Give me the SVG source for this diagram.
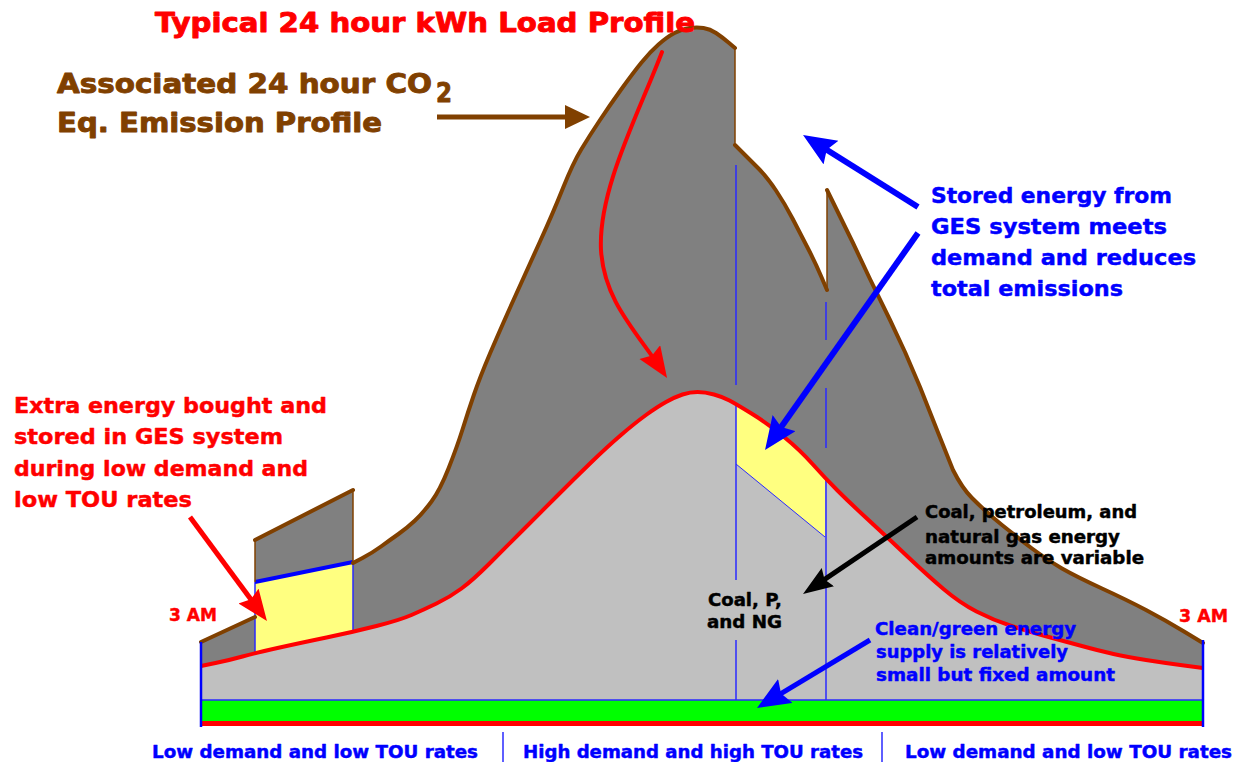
<svg xmlns="http://www.w3.org/2000/svg" width="1239" height="762" viewBox="0 0 1239 762">
<style>
text{font-family:"DejaVu Sans","Liberation Sans",sans-serif;font-weight:bold;stroke-width:0.45;stroke-linejoin:round}
.red{fill:#FF0000;stroke:#FF0000}.blue{fill:#0000FF;stroke:#0000FF}.brown{fill:#804000;stroke:#804000}.black{fill:#000;stroke:#000}
.heavy{stroke-width:0.9}
.bl{stroke:#2A2AFF;stroke-width:1.5;fill:none}
.br{stroke:#804000;stroke-width:4;fill:none;stroke-linejoin:round;stroke-linecap:round}
.brt{stroke:#804000;stroke-width:1.5;fill:none}
</style>
<defs>
<marker id="ah-blue" markerUnits="userSpaceOnUse" markerWidth="34" markerHeight="30" refX="23" refY="14" orient="auto"><path d="M0,0 L33,14 L0,28 L5,14 Z" fill="#0000FF"/></marker>
<marker id="ah-black" markerUnits="userSpaceOnUse" markerWidth="31" markerHeight="23" refX="20" refY="11" orient="auto"><path d="M0,0 L30,11 L0,22 L4,11 Z" fill="#000"/></marker>
<marker id="ah-red" markerUnits="userSpaceOnUse" markerWidth="32" markerHeight="26" refX="21" refY="12.5" orient="auto"><path d="M0,0 L31,12.5 L0,25 L4,12.5 Z" fill="#FF0000"/></marker>
<marker id="ah-brown" markerUnits="userSpaceOnUse" markerWidth="26" markerHeight="25" refX="15" refY="12" orient="auto"><path d="M0,0 L25,12 L0,24 Z" fill="#804000"/></marker>
</defs>
<rect width="1239" height="762" fill="#FFFFFF"/>

<g id="emission-profile">
<path d="M201,700 L201,642 L255,617 L255,540 L353,490 L353,563 L362.5,558 Q372,553 381,546.5 Q390,540 398.5,534 Q407,528 415,520.5 Q423,513 431.5,501.5 Q440,490 448.5,468.5 Q457,447 462.5,429.5 Q468,412 474,394.5 Q480,377 490,353.5 Q500,330 513.5,300 Q527,270 540,241.5 Q553,213 563,188 Q573,163 581.5,149 Q590,135 600,120 Q610,105 621.5,89 Q633,73 641.5,62.5 Q650,52 658.5,44.5 Q667,37 674.5,33 Q682,29 689.5,28 Q697,27 703.5,28 Q710,29 716,33 Q722,37 728.5,42.5 L735,48 L735,145 L742.5,152.5 Q750,160 758.5,168.5 Q767,177 776,190.5 Q785,204 792.5,218.5 Q800,233 807.5,247.5 Q815,262 821,276 L827,290 L827,190 L853,243 L870,279 L890,320 L905,352 L920,387 L937,430 L953,470 Q962,488 972,498 Q987,513 1002,525 Q1017,537 1032,548.5 Q1047,560 1062,568.5 Q1077,577 1102,588.5 Q1127,600 1146,610 Q1165,620 1184,631.5 L1203,643 L1203,700 Z" fill="#808080"/>
</g>

<g id="load-profile">
<path d="M201,700 L201,666 L215.5,663 Q230,660 242.5,656.5 Q255,653 277.5,648 Q300,643 326.5,637.5 Q353,632 376.5,626 Q400,620 411.5,615 Q423,610 436.5,603.5 Q450,597 461.5,588.5 Q473,580 489,564 Q505,548 522.5,530.5 Q540,513 557.5,495.5 Q575,478 591,462.5 Q607,447 621,435 Q635,423 646,415 Q657,407 666,402 Q675,397 682.5,394.5 Q690,392 697.5,392 Q705,392 714,394.5 Q723,397 729.5,400.5 Q736,404 751.5,413.5 Q767,423 783.5,436.5 Q800,450 812.5,464 Q825,478 837.5,490.5 Q850,503 868.5,520 Q887,537 907,556 Q927,575 943.5,589 Q960,603 976.5,611.5 Q993,620 1011.5,626 Q1030,632 1045,636 Q1060,640 1080,645.5 Q1100,651 1113.5,654 Q1127,657 1146,660 Q1165,663 1184,665.5 L1203,668 L1203,700 Z" fill="#C0C0C0"/>
</g>

<g id="stored-left">
<path d="M255,582 L353,562 L353,632 L300,643 L255,653 Z" fill="#FFFF80"/>
<line x1="255" y1="582" x2="255" y2="655" class="bl"/>
<line x1="353" y1="562" x2="353" y2="633" class="bl"/>
<line x1="255" y1="582" x2="353" y2="562" stroke="#0000FF" stroke-width="4"/>
</g>

<g id="stored-right">
<path d="M736,404 L751.5,413.5 L767,423 L783.5,436.5 L800,450 L812.5,464 L825,477 L825,537 L736,464 Z" fill="#FFFF80"/>
<line x1="736" y1="464" x2="825" y2="537" stroke="#2A2AFF" stroke-width="1"/>
</g>

<g id="period-lines">
<line x1="736" y1="165" x2="736" y2="385" class="bl"/>
<line x1="736" y1="404" x2="736" y2="580" class="bl"/>
<line x1="736" y1="640" x2="736" y2="700" class="bl"/>
<line x1="826" y1="302" x2="826" y2="340" class="bl"/>
<line x1="826" y1="388" x2="826" y2="448" class="bl"/>
<line x1="826" y1="478" x2="826" y2="700" class="bl"/>
</g>

<g id="emission-outline">
<path d="M201,642 L255,617" class="br"/>
<path d="M255,540 L353,490" class="br"/>
<path d="M353,563 L362.5,558 Q372,553 381,546.5 Q390,540 398.5,534 Q407,528 415,520.5 Q423,513 431.5,501.5 Q440,490 448.5,468.5 Q457,447 462.5,429.5 Q468,412 474,394.5 Q480,377 490,353.5 Q500,330 513.5,300 Q527,270 540,241.5 Q553,213 563,188 Q573,163 581.5,149 Q590,135 600,120 Q610,105 621.5,89 Q633,73 641.5,62.5 Q650,52 658.5,44.5 Q667,37 674.5,33 Q682,29 689.5,28 Q697,27 703.5,28 Q710,29 716,33 Q722,37 728.5,42.5 L735,48" class="br"/>
<path d="M735,145 L742.5,152.5 Q750,160 758.5,168.5 Q767,177 776,190.5 Q785,204 792.5,218.5 Q800,233 807.5,247.5 Q815,262 821,276 L827,290" class="br"/>
<path d="M827,190 L853,243 L870,279 L890,320 L905,352 L920,387 L937,430 L953,470 Q962,488 972,498 Q987,513 1002,525 Q1017,537 1032,548.5 Q1047,560 1062,568.5 Q1077,577 1102,588.5 Q1127,600 1146,610 Q1165,620 1184,631.5 L1203,643" class="br"/>
<line x1="255" y1="540" x2="255" y2="582" class="brt"/>
<line x1="353" y1="490" x2="353" y2="563" class="brt"/>
<line x1="735" y1="48" x2="735" y2="145" class="brt"/>
<line x1="827" y1="190" x2="827" y2="290" class="brt"/>
</g>

<g id="load-outline">
<path d="M201,666 L215.5,663 Q230,660 242.5,656.5 Q255,653 277.5,648 Q300,643 326.5,637.5 Q353,632 376.5,626 Q400,620 411.5,615 Q423,610 436.5,603.5 Q450,597 461.5,588.5 Q473,580 489,564 Q505,548 522.5,530.5 Q540,513 557.5,495.5 Q575,478 591,462.5 Q607,447 621,435 Q635,423 646,415 Q657,407 666,402 Q675,397 682.5,394.5 Q690,392 697.5,392 Q705,392 714,394.5 Q723,397 729.5,400.5 Q736,404 751.5,413.5 Q767,423 783.5,436.5 Q800,450 812.5,464 Q825,478 837.5,490.5 Q850,503 868.5,520 Q887,537 907,556 Q927,575 943.5,589 Q960,603 976.5,611.5 Q993,620 1011.5,626 Q1030,632 1045,636 Q1060,640 1080,645.5 Q1100,651 1113.5,654 Q1127,657 1146,660 Q1165,663 1184,665.5 L1203,668" fill="none" stroke="#FF0000" stroke-width="4" stroke-linejoin="round"/>
</g>

<g id="base">
<rect x="201" y="700" width="1002" height="21" fill="#00FF00"/>
<rect x="201" y="721" width="1002" height="5" fill="#FF0000"/>
<line x1="201" y1="700" x2="1203" y2="700" stroke="#2A2AFF" stroke-width="1.5"/>
<line x1="201" y1="642" x2="201" y2="727" stroke="#0000FF" stroke-width="2.5"/>
<line x1="1203" y1="640" x2="1203" y2="727" stroke="#0000FF" stroke-width="2.5"/>
<line x1="503" y1="732" x2="503" y2="762" stroke="#2A2AFF" stroke-width="1.5"/>
<line x1="882" y1="732" x2="882" y2="762" stroke="#2A2AFF" stroke-width="1.5"/>
</g>

<g id="connectors">
<line x1="437" y1="117" x2="580" y2="117" stroke="#804000" stroke-width="5" marker-end="url(#ah-brown)"/>
<path d="M662,52 C638,115 598,190 601,250 C604,300 635,330 661.5,369.6" fill="none" stroke="#FF0000" stroke-width="4" stroke-linecap="round" marker-end="url(#ah-red)"/>
<line x1="190" y1="517" x2="261" y2="613" stroke="#FF0000" stroke-width="5" marker-end="url(#ah-red)"/>
<line x1="918" y1="207" x2="811.5" y2="140.3" stroke="#0000FF" stroke-width="6" marker-end="url(#ah-blue)"/>
<line x1="918" y1="233" x2="770.8" y2="441.8" stroke="#0000FF" stroke-width="6" marker-end="url(#ah-blue)"/>
<line x1="870" y1="640" x2="765.6" y2="702.8" stroke="#0000FF" stroke-width="5" marker-end="url(#ah-blue)"/>
<line x1="917" y1="517" x2="811.3" y2="588.4" stroke="#000000" stroke-width="5" marker-end="url(#ah-black)"/>
</g>

<g id="title">
<text x="155" y="32" font-size="27" class="red heavy" textLength="540" lengthAdjust="spacingAndGlyphs">Typical 24 hour kWh Load Profile</text>
</g>
<g id="co2-label">
<text x="57" y="93" font-size="27" class="brown heavy" textLength="375" lengthAdjust="spacingAndGlyphs">Associated 24 hour CO</text>
<text x="436" y="102" font-size="27" class="brown heavy" textLength="16" lengthAdjust="spacingAndGlyphs">2</text>
<text x="57" y="132" font-size="27" class="brown heavy" textLength="325" lengthAdjust="spacingAndGlyphs">Eq. Emission Profile</text>
</g>
<g id="stored-label">
<text x="931" y="203" font-size="21" class="blue" textLength="241" lengthAdjust="spacingAndGlyphs">Stored energy from</text>
<text x="931" y="234" font-size="21" class="blue" textLength="236" lengthAdjust="spacingAndGlyphs">GES system meets</text>
<text x="931" y="265" font-size="21" class="blue" textLength="265" lengthAdjust="spacingAndGlyphs">demand and reduces</text>
<text x="931" y="296" font-size="21" class="blue" textLength="192" lengthAdjust="spacingAndGlyphs">total emissions</text>
</g>
<g id="extra-label">
<text x="14" y="413" font-size="21" class="red" textLength="313" lengthAdjust="spacingAndGlyphs">Extra energy bought and</text>
<text x="14" y="444" font-size="21" class="red" textLength="269" lengthAdjust="spacingAndGlyphs">stored in GES system</text>
<text x="14" y="476" font-size="21" class="red" textLength="294" lengthAdjust="spacingAndGlyphs">during low demand and</text>
<text x="14" y="507" font-size="21" class="red" textLength="178" lengthAdjust="spacingAndGlyphs">low TOU rates</text>
</g>
<g id="time-labels">
<text x="169" y="621" font-size="17" class="red" textLength="48" lengthAdjust="spacingAndGlyphs">3 AM</text>
<text x="1179" y="622" font-size="17" class="red" textLength="49" lengthAdjust="spacingAndGlyphs">3 AM</text>
</g>
<g id="fossil-label">
<text x="925" y="518" font-size="17" class="black" textLength="212" lengthAdjust="spacingAndGlyphs">Coal, petroleum, and</text>
<text x="925" y="543" font-size="17" class="black" textLength="195" lengthAdjust="spacingAndGlyphs">natural gas energy</text>
<text x="925" y="564" font-size="17" class="black" textLength="219" lengthAdjust="spacingAndGlyphs">amounts are variable</text>
</g>
<g id="fossil-short-label">
<text x="708" y="606" font-size="17" class="black" textLength="74" lengthAdjust="spacingAndGlyphs">Coal, P,</text>
<text x="707" y="628" font-size="17" class="black" textLength="75" lengthAdjust="spacingAndGlyphs">and NG</text>
</g>
<g id="clean-label">
<text x="875" y="635" font-size="17" class="blue" textLength="201" lengthAdjust="spacingAndGlyphs">Clean/green energy</text>
<text x="876" y="658" font-size="17" class="blue" textLength="192" lengthAdjust="spacingAndGlyphs">supply is relatively</text>
<text x="876" y="681" font-size="17" class="blue" textLength="239" lengthAdjust="spacingAndGlyphs">small but fixed amount</text>
</g>
<g id="period-labels">
<text x="152" y="758" font-size="17" class="blue" textLength="326" lengthAdjust="spacingAndGlyphs">Low demand and low TOU rates</text>
<text x="523" y="758" font-size="17" class="blue" textLength="340" lengthAdjust="spacingAndGlyphs">High demand and high TOU rates</text>
<text x="905" y="758" font-size="17" class="blue" textLength="327" lengthAdjust="spacingAndGlyphs">Low demand and low TOU rates</text>
</g>
</svg>
